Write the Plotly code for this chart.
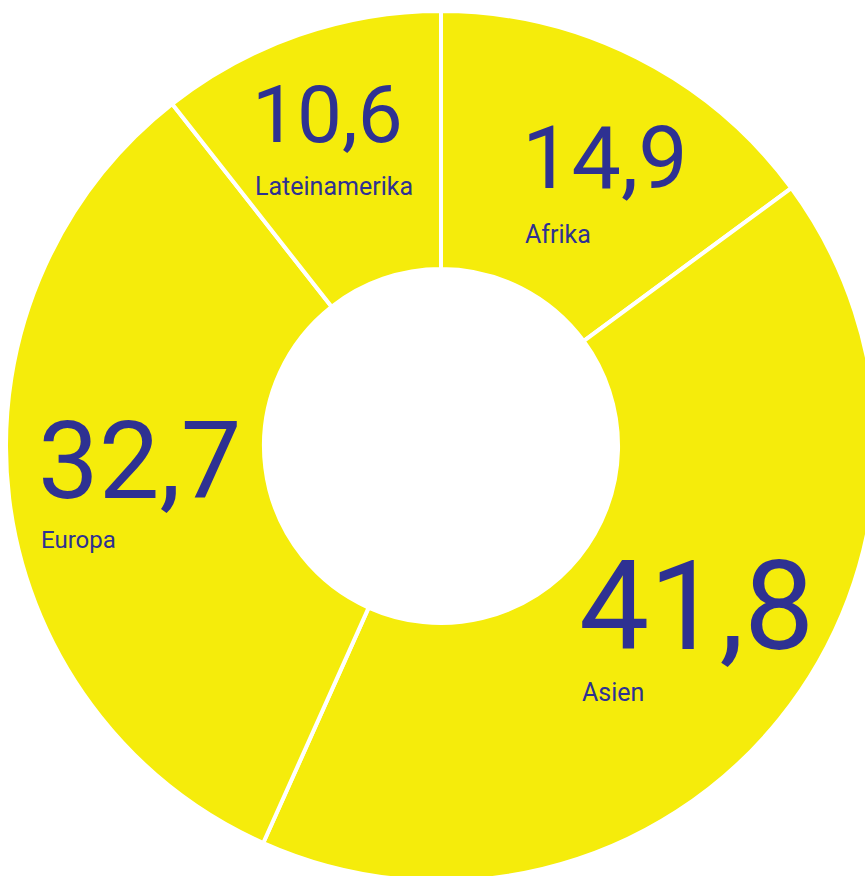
import plotly.graph_objects as go

# ---- data ----
regions = ["Afrika", "Asien", "Europa", "Lateinamerika"]
shares = [14.9, 41.8, 32.7, 10.6]
value_labels = ["14,9", "41,8", "32,7", "10,6"]

# ---- styling / layout constants ----
W, H = 880, 886
YELLOW = "#f5ec0b"
INK = "#2e3192"
FONT = "Roboto"

# label placements in pixel space (left x, cap-middle y of number, size, label-middle y, label size)
label_style = {
    "Afrika":        dict(x=520, ny=157, ns=88, ly=234, ls=25),
    "Asien":         dict(x=577, ny=606, ns=125, ly=692, ls=25),
    "Europa":        dict(x=36,  ny=461, ns=108, ly=540, ls=24),
    "Lateinamerika": dict(x=250, ny=115, ns=80, ly=186, ls=25),
}

fig = go.Figure(
    go.Pie(
        labels=regions,
        values=shares,
        sort=False,
        direction="clockwise",
        rotation=0,
        hole=0.407,
        marker=dict(colors=[YELLOW] * len(regions), line=dict(color="white", width=4)),
        textinfo="none",
        hoverinfo="label+value",
        showlegend=False,
        domain=dict(x=[6 / W, 876 / W], y=[5 / H, 875 / H]),
    )
)

annotations = []
for name, txt in zip(regions, value_labels):
    s = label_style[name]
    annotations.append(dict(
        text=txt, x=s["x"] / W, y=1 - s["ny"] / H, xref="paper", yref="paper",
        xanchor="left", yanchor="middle", showarrow=False,
        font=dict(family=FONT, size=s["ns"], color=INK),
    ))
    annotations.append(dict(
        text=name, x=(s["x"] + 3) / W, y=1 - s["ly"] / H, xref="paper", yref="paper",
        xanchor="left", yanchor="middle", showarrow=False,
        font=dict(family=FONT, size=s["ls"], color=INK),
    ))

fig.update_layout(
    width=W, height=H,
    margin=dict(l=0, r=0, t=0, b=0),
    paper_bgcolor="white",
    plot_bgcolor="white",
    annotations=annotations,
)

fig.write_html(
    "out.html",
    config={"displayModeBar": False},
    post_script="document.body.style.margin='0';document.body.style.overflow='hidden';document.documentElement.style.overflow='hidden';",
)
